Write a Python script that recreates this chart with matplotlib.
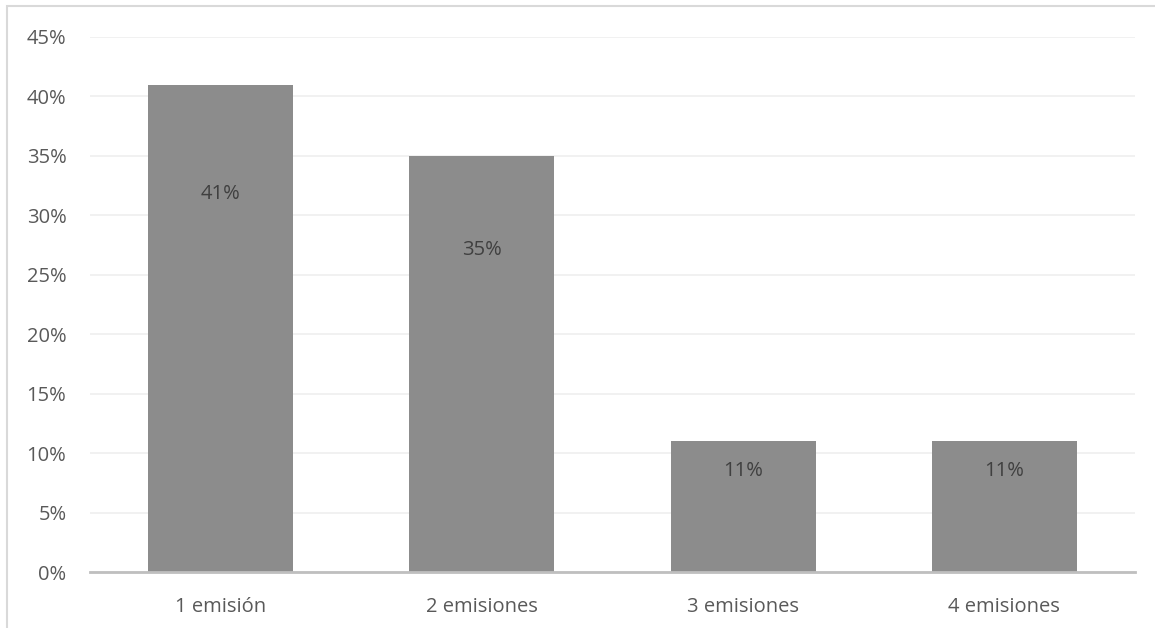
import matplotlib.pyplot as plt
from matplotlib.patches import Rectangle
from matplotlib.ticker import FuncFormatter

# data
categories = ["1 emisión", "2 emisiones", "3 emisiones", "4 emisiones"]
values = [41, 35, 11, 11]
label_frac = 0.775   # data labels sit at ~78% of bar height

plt.rcParams['font.family'] = ['Open Sans', 'DejaVu Sans']

fig = plt.figure(figsize=(11.55, 6.28), dpi=100)
ax = fig.add_axes([90 / 1155, 56 / 628, 1045 / 1155, 535 / 628])

# outer chart frame (only top/left visible in the picture)
fig.patches.append(Rectangle((7 / 1155, -0.1), 1.2, (622 / 628) + 0.1,
                             transform=fig.transFigure, fill=False,
                             edgecolor="#d9d9d9", linewidth=1.5))

x = range(len(categories))
ax.bar(x, values, width=0.555, color="#8c8c8c", zorder=2)

for i, v in enumerate(values):
    ax.text(i, v * label_frac, f"{v}%", ha="center", va="center",
            fontsize=14.5, color="#404040", zorder=3)

ax.set_ylim(0, 45)
ax.set_xlim(-0.5, len(categories) - 0.5)
ax.set_yticks(range(0, 46, 5))
ax.yaxis.set_major_formatter(FuncFormatter(lambda v, p: f"{int(v)}%"))
ax.set_xticks(list(x))
ax.set_xticklabels(categories)
ax.grid(axis="y", color="#efefef", linewidth=1.2, zorder=0)
ax.set_axisbelow(True)

for s in ["top", "right", "left"]:
    ax.spines[s].set_visible(False)
ax.spines["bottom"].set_color("#bfbfbf")
ax.spines["bottom"].set_linewidth(2)
ax.spines["bottom"].set_zorder(4)

ax.tick_params(axis="both", length=0, labelsize=14.5, labelcolor="#595959")
ax.tick_params(axis="y", pad=17)
ax.tick_params(axis="x", pad=18)

fig.savefig("out.png", dpi=100)
